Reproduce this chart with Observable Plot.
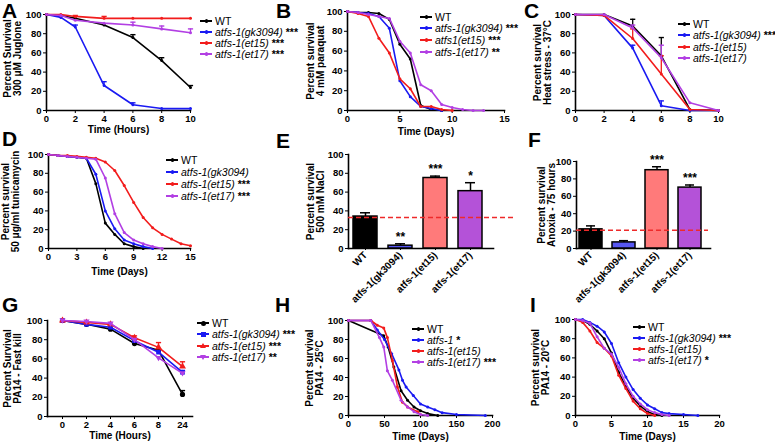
<!DOCTYPE html>
<html><head><meta charset="utf-8">
<script src="https://cdn.jsdelivr.net/npm/d3@7"></script>
<script src="https://cdn.jsdelivr.net/npm/@observablehq/plot@0.6"></script>
<style>
body{margin:0;background:#fff;}
#fig{position:relative;width:775px;height:442px;overflow:hidden;background:#fff;font-family:"Liberation Sans",Arial,sans-serif;}
.letter{position:absolute;font-size:21px;font-weight:bold;line-height:1;}
.leg{position:absolute;font-size:10.5px;line-height:10px;height:10px;white-space:nowrap;display:flex;align-items:center;}
.sw{position:relative;display:inline-block;width:12px;height:10px;margin-right:3px;}
.sw .ln{position:absolute;left:0;right:0;top:4.2px;height:1.6px;}
.sw .mk{position:absolute;left:4.5px;top:3.2px;width:3.5px;height:3.5px;border-radius:50%;}
.it{font-style:italic;}
.st{font-weight:bold;margin-left:3px;}
</style></head><body><div id="fig"></div>
<script>
// ---------- colours / styles ----------
const COL_WT = "#000000", COL_GK = "#1a1af2", COL_ET15 = "#f21c1c", COL_ET17 = "#b23fe3";
const BAR_COLORS = ["#000000", "#5757f2", "#ff7a7a", "#b452d8"];
const FONT = '"Liberation Sans", Arial, sans-serif';

// ---------- data ----------
const NAMES = ["WT", "atfs-1(gk3094)", "atfs-1(et15)", "atfs-1(et17)"];

// A: 300 uM juglone (hours)
const A_hours = [0, 1, 2, 4, 6, 8, 10];
const A_WT = [100, 99, 96, 89, 76, 52, 24];
const A_WT_hi = [null, null, null, null, 79, 55, 26];
const A_gk = [100, 97, 87, 26, 6, 2, 2];
const A_gk_hi = [null, null, 89, 30, 8, null, null];
const A_et15 = [100, 100, 98, 96, 96, 96, 96];
const A_et15_hi = [null, null, 99, 98, null, null, null];
const A_et17 = [100, 99, 94, 91, 89, 85, 81];
const A_et17_hi = [null, null, null, null, 92, 88, 85];
const A_stars = ["", "***", "***", "***"];

// B: 4 mM paraquat (days)
const B_WT_x = [0, 1, 2, 3, 4, 5, 6, 7, 8, 9];
const B_WT = [100, 99, 99, 98, 92, 67, 52, 5, 1, 0];
const B_gk_x = [0, 1, 2, 3, 4, 5, 6, 7, 8, 9];
const B_gk = [100, 99, 98, 95, 83, 30, 14, 4, 2, 0];
const B_et15_x = [0, 1, 2, 3, 4, 5, 6, 7, 8, 9, 10];
const B_et15 = [100, 98, 95, 73, 58, 32, 22, 4, 4, 1, 0];
const B_et17_x = [0, 1, 2, 3, 4, 5, 6, 7, 8, 9, 10, 11, 12, 13];
const B_et17 = [100, 99, 97, 95, 93, 70, 58, 26, 20, 6, 3, 1, 0, 0];
const B_names = ["WT", "atfs-1(gk3094)", "atfs1(et15)", "atfs-1(et17)"];
const B_stars = ["", "***", "***", " **"];

// C: heat stress 37C (days)
const C_days = [0, 2, 4, 6, 8, 10];
const C_WT = [100, 100, 88, 57, 1, 0];
const C_WT_hi = [null, null, 95, 76, null, null];
const C_gk = [100, 99, 65, 5, 0, 0];
const C_gk_hi = [null, null, 68, 10, null, null];
const C_et15 = [100, 99, 75, 38, 1, 0];
const C_et15_hi = [null, null, 85, 57, null, null];
const C_et17 = [100, 100, 86, 55, 8, 0];
const C_et17_hi = [null, null, 89, 68, null, null];
const C_stars = ["", "***", "", ""];

// D: tunicamycin (days)
const D_WT_x = [0, 1, 2, 3, 4, 5, 6, 7, 8, 9, 10];
const D_WT = [100, 99, 98, 97, 96, 69, 27, 15, 5, 2, 0];
const D_gk_x = [0, 1, 2, 3, 4, 5, 6, 7, 8, 9, 10, 11];
const D_gk = [100, 99, 98, 97, 96, 79, 40, 21, 9, 5, 2, 0];
const D_et15_x = [0, 1, 2, 3, 4, 5, 6, 7, 8, 9, 10, 11, 12, 13, 14, 15];
const D_et15 = [100, 99, 99, 98, 97, 96, 92, 83, 67, 49, 33, 22, 15, 10, 5, 3];
const D_et17_x = [0, 1, 2, 3, 4, 5, 6, 7, 8, 9, 10, 11, 12];
const D_et17 = [100, 99, 98, 97, 96, 95, 75, 37, 17, 9, 5, 2, 0];
const D_stars = ["", "", "***", "***"];

// E: 500 mM NaCl (bars)
const E_vals = [34, 3, 75, 61];
const E_hi = [38, 5, 77, 70];
const E_stars = ["", "**", "***", "*"];
const E_ref = 33;

// F: anoxia 75 h (bars)
const F_vals = [22, 7, 90, 70];
const F_hi = [26, 9, 94, 73];
const F_stars = ["", "", "***", "***"];
const F_ref = 21;

// G: PA14 fast kill (hours, categorical)
const G_hours = ["0", "2", "4", "6", "8", "24"];
const G_WT = [100, 96, 91, 76, 69, 23];
const G_WT_hi = [null, null, null, null, null, 27];
const G_gk = [100, 96, 93, 79, 67, 46];
const G_gk_hi = [null, null, null, null, null, 48];
const G_et15 = [100, 98, 96, 82, 72, 52];
const G_et15_hi = [null, null, null, 84, 77, 57];
const G_et17 = [100, 99, 97, 80, 61, 45];
const G_et17_hi = [null, null, null, null, null, null];
const G_stars = ["", "***", "***", "**"];

// H: PA14 25C (days)
const H_WT_x = [0, 49, 55, 63, 73, 82, 91, 100, 110, 124];
const H_WT = [100, 84, 72, 51, 26, 16, 9, 5, 2, 0];
const H_gk_x = [0, 31, 40, 50, 60, 70, 75, 80, 90, 100, 110, 120, 130, 150, 190];
const H_gk = [100, 100, 90, 80, 65, 48, 37, 30, 21, 12, 9, 6, 3, 1, 0];
const H_et15_x = [0, 31, 40, 49, 54, 61, 68, 75, 82, 96, 100];
const H_et15 = [100, 100, 95, 92, 82, 58, 30, 14, 9, 4, 1];
const H_et17_x = [0, 31, 43, 49, 54, 61, 73, 82, 91, 100, 110];
const H_et17 = [100, 100, 82, 72, 47, 37, 16, 9, 4, 1, 0];
const H_names = ["WT", "atfs-1", "atfs-1(et15)", "atfs-1(et17)"];
const H_stars = ["", "*", "", "***"];

// I: PA14 20C (days)
const I_WT_x = [0, 1, 2, 3, 4, 5, 6, 7, 8, 9, 10, 11, 12];
const I_WT = [100, 99, 95, 88, 80, 65, 45, 30, 18, 10, 4, 1, 0];
const I_gk_x = [0, 1, 2, 3, 4, 5, 6, 7, 8, 9, 10, 11, 12, 13, 15, 17];
const I_gk = [100, 100, 97, 93, 87, 75, 55, 40, 27, 18, 11, 7, 3, 2, 1, 0];
const I_et15_x = [0, 1, 2, 3, 4, 5, 6, 7, 8, 9, 10, 11];
const I_et15 = [100, 97, 88, 76, 70, 62, 42, 28, 15, 7, 2, 0];
const I_et17_x = [0, 1, 2, 3, 4, 5, 6, 7, 8, 9, 10, 11, 12, 13];
const I_et17 = [100, 99, 96, 82, 70, 64, 50, 33, 20, 12, 6, 3, 1, 0];
const I_stars = ["", "***", "", "*"];

const Y_TICKS = [0, 20, 40, 60, 80, 100];

// ---------- helpers ----------
const fig = document.getElementById("fig");
const rows = (xs, ys, his) => xs.map((x, i) => ({x, y: ys[i], hi: his ? his[i] : null}));
const capSym = {draw(ctx, size) { const w = Math.sqrt(size / Math.PI); ctx.moveTo(-w, 0); ctx.lineTo(w, 0); }};
const downTri = {draw(ctx, size) { const r = Math.sqrt(size / Math.PI) * 1.25; ctx.moveTo(0, r); ctx.lineTo(r * 0.95, -r * 0.6); ctx.lineTo(-r * 0.95, -r * 0.6); ctx.closePath(); }};

function place(svg, left, top) {
  svg.style.position = "absolute";
  svg.style.left = left + "px";
  svg.style.top = top + "px";
  fig.appendChild(svg);
}

function baseMarks(p) {
  return [
    Plot.frame({anchor: "left", strokeWidth: 1.6}),
    Plot.frame({anchor: "bottom", strokeWidth: 1.6}),
    Plot.axisY({ticks: Y_TICKS, tickSize: 3, tickPadding: 2, label: null, fontSize: 9.5, fontWeight: "bold"}),
    Plot.text([p.yTitle], {text: d => d, frameAnchor: "left", textAnchor: "middle", lineAnchor: "middle", dx: p.yDx, dy: p.yDy ?? 0, rotate: -90, fontSize: 10, fontWeight: "bold", lineHeight: 1.02}),
  ];
}

function survPanel(p) {
  const marks = baseMarks(p);
  marks.push(Plot.axisX(p.xOrdinal ? {tickSize: 3, tickPadding: 2, label: null, fontSize: 9.5, fontWeight: "bold"}
                                   : {ticks: p.xTicks, tickSize: 3, tickPadding: 2, label: null, fontSize: 9.5, fontWeight: "bold"}));
  for (const s of p.series) {
    const data = rows(s.x, s.y, s.hi);
    const errs = data.filter(d => d.hi != null);
    marks.push(Plot.line(data, {x: "x", y: "y", stroke: s.color, strokeWidth: 1.6}));
    if (errs.length) {
      marks.push(Plot.ruleX(errs, {x: "x", y1: "y", y2: "hi", stroke: s.color, strokeWidth: 1.3}));
      marks.push(Plot.dot(errs, {x: "x", y: "hi", symbol: capSym, r: 2.6, stroke: s.color, strokeWidth: 1.4}));
    }
    marks.push(Plot.dot(data, {x: "x", y: "y", r: p.r ?? 1.5, fill: s.color, stroke: "none", symbol: s.symbol ?? "circle"}));
  }
  if (p.xTitle) marks.push(Plot.text([p.xTitle], {text: d => d, frameAnchor: "bottom", lineAnchor: "middle", dy: p.xDy, fontSize: 10, fontWeight: "bold"}));
  const opts = {
    width: p.w, height: p.h,
    marginLeft: p.fx0 - p.left, marginRight: p.left + p.w - p.fx1,
    marginTop: p.fy0 - p.top, marginBottom: p.top + p.h - p.fy1,
    y: {domain: [0, 100]},
    style: {fontFamily: FONT, fontSize: "9.5px", fontWeight: "bold", overflow: "visible", background: "transparent", color: "#000"},
    marks
  };
  opts.x = p.xOrdinal ? {type: "point", domain: p.xDomain, padding: 0} : {domain: p.xDomain};
  if (p.insetLeft != null) opts.insetLeft = p.insetLeft;
  if (p.insetRight != null) opts.insetRight = p.insetRight;
  place(Plot.plot(opts), p.left, p.top);
}

function barPanel(p) {
  const data = NAMES.map((c, i) => ({cat: c, val: p.vals[i], hi: p.his[i], star: p.stars[i]}));
  const marks = baseMarks(p);
  marks.push(
    Plot.axisX({tickRotate: -45, tickSize: 2, tickPadding: 3, label: null, fontSize: 10, fontWeight: "bold"}),
    Plot.barY(data, {x: "cat", y: "val", fill: "cat", stroke: "#000", strokeWidth: 1.5}),
    Plot.ruleX(data, {x: "cat", y1: "val", y2: "hi", stroke: "#000", strokeWidth: 1.5}),
    Plot.tickY(data, {x: "cat", y: "hi", stroke: "#000", strokeWidth: 1.5, insetLeft: 7, insetRight: 7}),
    Plot.ruleY([p.ref], {stroke: "#ee2a2a", strokeWidth: 1.6, strokeDasharray: "5,3", insetRight: p.refExt}),
    Plot.text(data, {x: "cat", y: "hi", text: "star", dy: -7, fontSize: 12, fontWeight: "bold"})
  );
  place(Plot.plot({
    width: p.w, height: p.h,
    marginLeft: p.fx0 - p.left, marginRight: p.left + p.w - p.fx1,
    marginTop: p.fy0 - p.top, marginBottom: p.top + p.h - p.fy1,
    insetRight: p.insetRight,
    x: {domain: NAMES, paddingInner: p.padIn, paddingOuter: p.padOut},
    y: {domain: [0, 100]},
    color: {domain: NAMES, range: BAR_COLORS},
    style: {fontFamily: FONT, fontSize: "9.5px", fontWeight: "bold", overflow: "visible", background: "transparent", color: "#000"},
    marks
  }), p.left, p.top);
}

function letter(t, x, y) {
  const d = document.createElement("div");
  d.className = "letter"; d.textContent = t;
  d.style.left = x + "px"; d.style.top = y + "px";
  fig.appendChild(d);
}

function legend(x, ys, names, stars, colors, markers) {
  names.forEach((n, i) => {
    const row = document.createElement("div");
    row.className = "leg";
    row.style.left = x + "px"; row.style.top = (ys[i] - 5) + "px";
    const sw = document.createElement("span"); sw.className = "sw";
    const ln = document.createElement("span"); ln.className = "ln"; ln.style.background = colors[i];
    const mk = document.createElement("span"); mk.className = "mk"; mk.style.background = colors[i];
    const m = markers ? markers[i] : "circle";
    if (m === "square") { mk.style.borderRadius = "0"; mk.style.width = "5px"; mk.style.height = "5px"; mk.style.left = "3.5px"; mk.style.top = "2.5px"; }
    if (m === "tri" || m === "tridown") {
      mk.style.background = "none"; mk.style.borderRadius = "0"; mk.style.width = "0"; mk.style.height = "0";
      mk.style.left = "3px"; mk.style.borderLeft = "3px solid transparent"; mk.style.borderRight = "3px solid transparent";
      if (m === "tri") { mk.style.top = "2px"; mk.style.borderBottom = "5px solid " + colors[i]; }
      else { mk.style.top = "3px"; mk.style.borderTop = "5px solid " + colors[i]; }
    }
    if (m === "big") { mk.style.width = "5px"; mk.style.height = "5px"; mk.style.left = "3.5px"; mk.style.top = "2.5px"; }
    sw.appendChild(ln); sw.appendChild(mk);
    row.appendChild(sw);
    const tx = document.createElement("span");
    tx.textContent = n;
    if (n !== "WT") tx.className = "it";
    row.appendChild(tx);
    if (stars[i]) { const st = document.createElement("span"); st.className = "st"; st.textContent = stars[i]; row.appendChild(st); }
    fig.appendChild(row);
  });
}

const COLS = [COL_WT, COL_GK, COL_ET15, COL_ET17];

// ---------- panels ----------
survPanel({left: 0, top: 0, w: 200, h: 142, fx0: 46, fx1: 190, fy0: 14, fy1: 110,
  xDomain: [0, 10], xTicks: [0, 2, 4, 6, 8, 10], xTitle: "Time (Hours)", xDy: 19,
  yTitle: "Percent Survival\n300 \u03bcM Juglone", yDx: -34, yDy: -4,
  series: [
    {x: A_hours, y: A_WT, hi: A_WT_hi, color: COL_WT},
    {x: A_hours, y: A_gk, hi: A_gk_hi, color: COL_GK},
    {x: A_hours, y: A_et15, hi: A_et15_hi, color: COL_ET15},
    {x: A_hours, y: A_et17, hi: A_et17_hi, color: COL_ET17}]});

survPanel({left: 262, top: 0, w: 250, h: 142, fx0: 347, fx1: 504, fy0: 11, fy1: 110,
  xDomain: [0, 15], xTicks: [0, 5, 10, 15], xTitle: "Time (Days)", xDy: 21,
  yTitle: "Percent survival\n4 mM paraquat", yDx: -32,
  series: [
    {x: B_WT_x, y: B_WT, color: COL_WT},
    {x: B_gk_x, y: B_gk, color: COL_GK},
    {x: B_et15_x, y: B_et15, color: COL_ET15},
    {x: B_et17_x, y: B_et17, color: COL_ET17}]});

survPanel({left: 522, top: 0, w: 200, h: 142, fx0: 575, fx1: 718, fy0: 14, fy1: 110,
  xDomain: [0, 10], xTicks: [0, 2, 4, 6, 8, 10],
  yTitle: "Percent survival\nHeat stress - 37\u00b0C", yDx: -33,
  series: [
    {x: C_days, y: C_WT, hi: C_WT_hi, color: COL_WT},
    {x: C_days, y: C_gk, hi: C_gk_hi, color: COL_GK},
    {x: C_days, y: C_et15, hi: C_et15_hi, color: COL_ET15},
    {x: C_days, y: C_et17, hi: C_et17_hi, color: COL_ET17}]});

survPanel({left: 0, top: 145, w: 200, h: 140, fx0: 48, fx1: 190, fy0: 154, fy1: 248,
  xDomain: [0, 15], xTicks: [0, 3, 6, 9, 12, 15], xTitle: "Time (Days)", xDy: 23,
  yTitle: "Percent survival\n50 \u03bcg/ml tunicamycin", yDx: -38,
  series: [
    {x: D_WT_x, y: D_WT, color: COL_WT},
    {x: D_gk_x, y: D_gk, color: COL_GK},
    {x: D_et15_x, y: D_et15, color: COL_ET15},
    {x: D_et17_x, y: D_et17, color: COL_ET17}]});

barPanel({left: 262, top: 145, w: 260, h: 160, fx0: 348, fx1: 493, fy0: 154, fy1: 248,
  vals: E_vals, his: E_hi, stars: E_stars, ref: E_ref, refExt: -20, insetRight: 5, padIn: 0.31, padOut: 0.15,
  yTitle: "Percent survival\n500 mM NaCl", yDx: -33});

barPanel({left: 522, top: 145, w: 253, h: 160, fx0: 576, fx1: 710, fy0: 161, fy1: 248,
  vals: F_vals, his: F_hi, stars: F_stars, ref: F_ref, refExt: 2, insetRight: 6, padIn: 0.3, padOut: 0.05,
  yTitle: "Percent survival\nAnoxia - 75 hours", yDx: -30});

survPanel({left: 0, top: 295, w: 200, h: 147, fx0: 47, fx1: 192, fy0: 320, fy1: 416,
  xOrdinal: true, xDomain: G_hours, insetLeft: 13, insetRight: 9, r: 2.6,
  xTitle: "Time (Hours)", xDy: 19,
  yTitle: "Percent Survival\nPA14 - Fast kill", yDx: -35,
  series: [
    {x: G_hours, y: G_WT, hi: G_WT_hi, color: COL_WT, symbol: "circle"},
    {x: G_hours, y: G_gk, hi: G_gk_hi, color: COL_GK, symbol: "square"},
    {x: G_hours, y: G_et15, hi: G_et15_hi, color: COL_ET15, symbol: "triangle"},
    {x: G_hours, y: G_et17, hi: G_et17_hi, color: COL_ET17, symbol: downTri}]});

survPanel({left: 262, top: 295, w: 250, h: 147, fx0: 348, fx1: 492, fy0: 320, fy1: 415,
  xDomain: [0, 200], xTicks: [0, 50, 100, 150, 200], xTitle: "Time (Days)", xDy: 21,
  yTitle: "Percent survival\nPA14 - 25\u00b0C", yDx: -34,
  series: [
    {x: H_WT_x, y: H_WT, color: COL_WT},
    {x: H_gk_x, y: H_gk, color: COL_GK},
    {x: H_et15_x, y: H_et15, color: COL_ET15},
    {x: H_et17_x, y: H_et17, color: COL_ET17}]});

survPanel({left: 522, top: 295, w: 253, h: 147, fx0: 575, fx1: 719, fy0: 319, fy1: 415,
  xDomain: [0, 20], xTicks: [0, 5, 10, 15, 20], xTitle: "Time (Days)", xDy: 21,
  yTitle: "Percent survival\nPA14 - 20\u00b0C", yDx: -35,
  series: [
    {x: I_WT_x, y: I_WT, color: COL_WT},
    {x: I_gk_x, y: I_gk, color: COL_GK},
    {x: I_et15_x, y: I_et15, color: COL_ET15},
    {x: I_et17_x, y: I_et17, color: COL_ET17}]});

// ---------- letters ----------
letter("A", 2, 0); letter("B", 276, 0); letter("C", 524, 0);
letter("D", 2, 128); letter("E", 276, 130); letter("F", 528, 129);
letter("G", 2, 294); letter("H", 275, 294); letter("I", 530, 294);

// ---------- legends ----------
legend(200, [21, 32, 43, 54], NAMES, A_stars, COLS);
legend(420, [17, 28, 40, 52], B_names, B_stars, COLS);
legend(678, [24, 35, 47, 58], NAMES, C_stars, COLS);
legend(166, [160, 172, 184, 196], NAMES, D_stars, COLS);
legend(197, [323, 334, 346, 357], NAMES, G_stars, COLS, ["big", "square", "tri", "tridown"]);
legend(412, [329, 340, 351, 362], H_names, H_stars, COLS);
legend(633, [327, 338, 349, 360], NAMES, I_stars, COLS);
</script></body></html>
